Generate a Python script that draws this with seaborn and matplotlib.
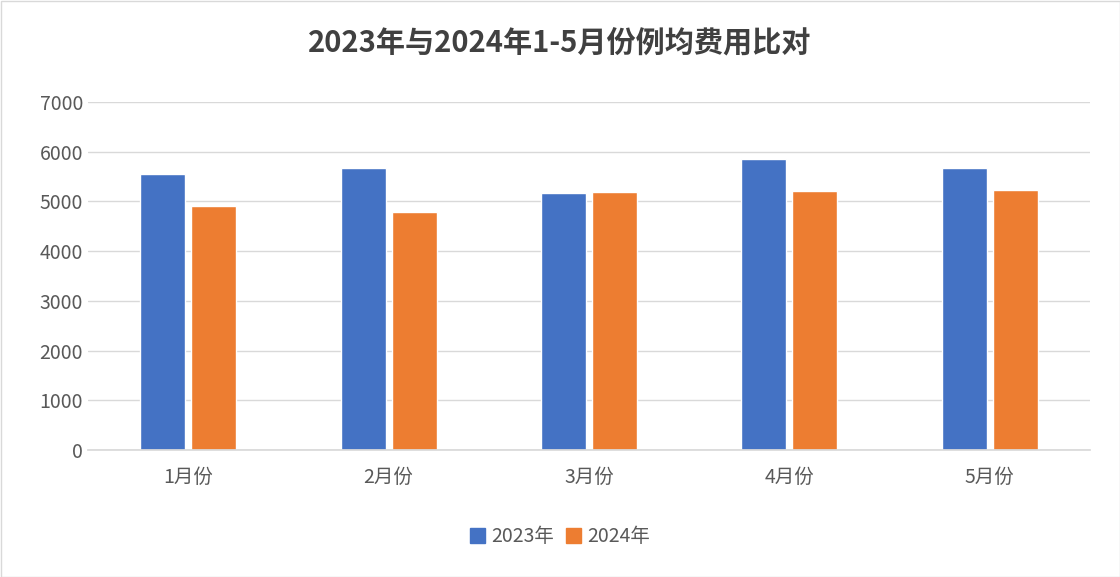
import matplotlib
matplotlib.use("Agg")
import matplotlib.pyplot as plt
import seaborn as sns
import pandas as pd
from matplotlib.patches import Rectangle

months = ["1月份", "2月份", "3月份", "4月份", "5月份"]
series = ["2023年", "2024年"]
v2023 = [5560, 5680, 5170, 5860, 5680]
v2024 = [4910, 4790, 5190, 5210, 5230]
colors = ["#4472C4", "#ED7D31"]

df = pd.DataFrame({
    "month": months * 2,
    "year": [series[0]] * 5 + [series[1]] * 5,
    "value": v2023 + v2024,
})

sns.set_theme(style="white")
plt.rcParams['font.family'] = ['Noto Sans CJK SC', 'DejaVu Sans']

fig = plt.figure(figsize=(11.2, 5.77), dpi=100)
ax = fig.add_axes([88/1120, 1-450/577, (1090-88)/1120, (450-102)/577])
sns.barplot(data=df, x="month", y="value", hue="year", palette=colors,
            width=0.51, ax=ax, legend=False, saturation=1)
for p in ax.patches:
    w = p.get_width()
    nw = w * 45/51
    p.set_x(p.get_x() + (w - nw)/2)
    p.set_width(nw)

ax.set_ylim(0, 7000)
ax.set_yticks(range(0, 7001, 1000))
ax.yaxis.grid(True, color="#D9D9D9", lw=1)
ax.set_axisbelow(True)
for s in ["top", "right", "left"]:
    ax.spines[s].set_visible(False)
ax.spines["bottom"].set_color("#D9D9D9")
ax.tick_params(axis="both", colors="#595959", labelsize=14, length=0)
ax.tick_params(axis="x", pad=12)
ax.set_xlabel("")
ax.set_ylabel("")
ax.set_xlim(-0.5, 4.5)

fig.suptitle("2023年与2024年1-5月份例均费用比对", y=1-43/577, va="center",
             fontsize=21, fontweight="bold", color="#404040")

handles = [Rectangle((0, 0), 1, 1, color=c) for c in colors]
fig.legend(handles, series, loc="center", bbox_to_anchor=(560/1120, 1-537/577),
           ncol=2, frameon=False, fontsize=14, handlelength=0.8, handleheight=0.8,
           columnspacing=0.6, handletextpad=0.3, labelcolor="#595959")

fig.patches.append(Rectangle((0.5/1120, 0.5/577), 1-1/1120, 1-1/577, transform=fig.transFigure,
                             fill=False, edgecolor="#D9D9D9", lw=1))
fig.savefig("out.png", dpi=100)
